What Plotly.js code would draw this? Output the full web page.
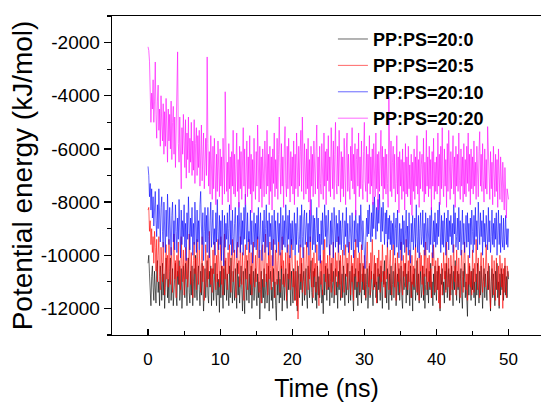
<!DOCTYPE html>
<html>
<head>
<meta charset="utf-8">
<script src="https://cdn.plot.ly/plotly-3.0.1.min.js"></script>
<style>
html,body{margin:0;padding:0;background:#fff;overflow:hidden;}
#chart{width:541px;height:402px;}
</style>
</head>
<body>
<div id="chart"></div>
<script>
// Sampling grid of the MD trajectory (ns)
const t0 = 0;
const dt = 0.1;

const seriesNames = ["PP:PS=20:0", "PP:PS=20:5", "PP:PS=20:10", "PP:PS=20:20"];

// Potential energy (kJ/mol), one value every 0.1 ns (one row = 1 ns)
const energy_20_0 = [
-10300,-10000,-10700,-11500,-11900,-10800,-10400,-11200,-11700,-10600,
-11300,-11800,-10500,-10200,-11400,-11000,-11900,-10400,-10800,-11700,
-10300,-11500,-10700,-12000,-11200,-10100,-10600,-11600,-10900,-11800,
-10600,-10100,-11700,-11200,-10500,-11900,-11300,-10700,-10300,-11500,
-11900,-10600,-11100,-10200,-11700,-11300,-10500,-12000,-11400,-10400,
-10900,-11600,-10300,-11200,-11900,-10700,-10100,-11400,-11800,-10600,
-11500,-10400,-11900,-11000,-10500,-11600,-10000,-11300,-11700,-10700,
-10400,-11300,-11900,-10600,-11500,-10300,-11000,-12100,-11300,-10500,
-11600,-10800,-10200,-11500,-11800,-10600,-11200,-10400,-11900,-10900,
-10500,-11700,-11100,-10300,-11400,-11900,-10700,-11500,-10900,-12150,
-10600,-11600,-10400,-11200,-12000,-10500,-11500,-10200,-11000,-11700,
-10700,-11300,-11900,-10400,-11600,-10100,-11200,-11800,-10600,-11400,
-11700,-10500,-11000,-12000,-10300,-11500,-10800,-11800,-11100,-10400,
-11300,-12100,-10600,-11500,-12200,-10500,-11100,-11700,-10200,-11400,
-11800,-10700,-11500,-10400,-12000,-11200,-10600,-11700,-11300,-10500,
-11500,-11900,-10700,-11600,-11000,-12400,-11300,-10600,-11800,-10900,
-11600,-10500,-12000,-11300,-10700,-11800,-11400,-10400,-12100,-11000,
-10600,-11700,-11200,-12000,-10500,-11600,-11000,-11900,-12450,-10900,
-11500,-10600,-11800,-10900,-11600,-10400,-12100,-11300,-10700,-11700,
-11200,-10500,-11600,-12000,-10700,-11300,-10300,-11500,-11900,-10600,
-11400,-11800,-10500,-11000,-11700,-10600,-11500,-12100,-10400,-11200,
-11600,-10700,-11300,-10300,-11900,-11000,-10600,-11700,-11300,-10500,
-11500,-12000,-10400,-11100,-11600,-10700,-10200,-11400,-11800,-10600,
-11200,-10500,-11700,-11000,-12000,-10400,-11500,-10800,-11600,-11200,
-10600,-11800,-11300,-12200,-10700,-11500,-10400,-11100,-11700,-10500,
-11300,-10700,-11900,-11000,-10300,-11600,-11200,-10600,-11800,-11000,
-10500,-11500,-11000,-12000,-10600,-11300,-10200,-11700,-11100,-10700,
-11600,-10400,-11300,-11900,-10700,-11500,-11000,-10300,-11800,-11100,
-10600,-11700,-11200,-10400,-11500,-12100,-10700,-11300,-10500,-11600,
-11000,-11900,-10600,-11500,-10300,-11100,-11800,-10700,-11300,-10400,
-11500,-10700,-11700,-11100,-10500,-12000,-11000,-10400,-11600,-11300,
-10600,-11500,-11900,-10700,-11200,-10300,-11600,-11000,-11800,-10500,
-11300,-10700,-11700,-10400,-11500,-12000,-10600,-11100,-10200,-11600,
-11000,-11800,-10500,-11300,-12050,-10700,-11500,-10400,-11700,-11100,
-10600,-11600,-11000,-10300,-11900,-11300,-10700,-11500,-10500,-11700,
-11100,-10400,-11600,-12000,-10600,-11300,-11000,-10300,-11800,-10700,
-11500,-10600,-11200,-11900,-10400,-11600,-11000,-12100,-10700,-11300,
-10500,-11700,-11100,-10200,-11500,-10700,-11800,-11000,-10600,-11600,
-11300,-10400,-11700,-10700,-12000,-11100,-10500,-11500,-11000,-11800,
-10600,-11300,-10300,-11600,-11000,-11900,-10700,-11500,-10400,-11200,
-11700,-10600,-11300,-10400,-11600,-12100,-10700,-11100,-10500,-11500,
-11000,-11800,-10600,-11300,-10300,-11600,-11100,-10500,-11700,-10700,
-11500,-10400,-11100,-11900,-10600,-11300,-10200,-11000,-11700,-10600,
-11300,-10700,-11800,-11000,-10500,-11500,-12000,-10600,-11200,-10300,
-11600,-11000,-12000,-12300,-10700,-11500,-10400,-11100,-11700,-10600,
-11300,-10500,-11600,-11000,-11900,-10700,-11500,-10300,-11100,-11800,
-10600,-11500,-10400,-11300,-12000,-11000,-10500,-11600,-10700,-11200,
-11700,-10600,-11300,-10400,-11500,-12100,-11000,-10500,-11600,-10700,
-11200,-11900,-10600,-11300,-10300,-11600,-11000,-12000,-10700,-11500,
-10500,-11300,-10700,-11700,-11000,-10400,-11500,-10800,-11600,-10600,
-10900];

const energy_20_5 = [
-8300,-8200,-9100,-8700,-9600,-9000,-9900,-9300,-10300,-9100,
-9700,-10600,-9400,-11000,-10000,-9300,-10800,-11300,-9700,-10400,
-11000,-9500,-10300,-11500,-10600,-9600,-10900,-10000,-11200,-9400,
-10500,-11100,-9700,-10700,-11400,-9900,-9200,-10900,-10200,-11600,
-10000,-10800,-9500,-11100,-10400,-11300,-9300,-10300,-11000,-9800,
-11500,-10400,-9700,-10900,-10100,-11200,-10700,-9200,-10500,-11100,
-9900,-10800,-11600,-10200,-9500,-10700,-10100,-11300,-9400,-10600,
-11100,-9800,-10700,-11400,-10200,-9300,-11000,-10400,-11700,-9900,
-9600,-10600,-11200,-10000,-10900,-9100,-10300,-11100,-10500,-11400,
-9800,-10700,-9500,-10400,-11300,-10000,-11000,-9400,-10600,-11200,
-10200,-9300,-11100,-10400,-11500,-9800,-9200,-10900,-10100,-11000,
-11300,-9900,-10700,-9600,-10500,-11400,-10200,-9400,-11000,-10300,
-9800,-10900,-11600,-10000,-9500,-10700,-10200,-11200,-9300,-10600,
-11100,-9900,-10700,-11700,-10200,-9600,-10900,-10000,-11300,-10400,
-9400,-10600,-11100,-9900,-11500,-10300,-9500,-10800,-11200,-10000,
-11000,-10200,-9300,-10800,-11400,-9800,-10500,-11800,-10100,-9600,
-10700,-11200,-10100,-9200,-11000,-10300,-11500,-9900,-10900,-9500,
-10500,-11300,-10000,-11000,-9400,-10300,-11600,-9800,-10700,-11100,
-10200,-9500,-10800,-11400,-9900,-10500,-9300,-11100,-10200,-11200,
-10700,-9900,-11700,-10300,-9600,-10900,-10000,-11300,-10500,-9400,
-10300,-11200,-10600,-11700,-10000,-11000,-11900,-10200,-12400,-11100,
-10400,-9600,-11000,-10100,-11400,-10600,-9700,-11000,-11500,-10300,
-9500,-10700,-11300,-10000,-10900,-9300,-10500,-11200,-10100,-11600,
-9900,-10800,-10300,-11400,-9600,-10500,-11200,-11900,-10600,-10000,
-11100,-10200,-11500,-9800,-10700,-9400,-11000,-10300,-11300,-10000,
-10700,-11200,-9600,-10500,-11400,-10100,-11000,-9500,-10300,-11500,
-9900,-10800,-10200,-11200,-9300,-10500,-11100,-10000,-11600,-10600,
-9800,-10900,-11400,-10300,-9600,-10800,-10100,-11300,-10500,-9500,
-10600,-11500,-10000,-11000,-10300,-11700,-9800,-10800,-9400,-10500,
-11200,-10100,-11000,-9900,-11400,-10600,-9600,-11000,-10300,-11300,
-10000,-10800,-11600,-10200,-9500,-10600,-11200,-10300,-11500,-9900,
-10900,-9400,-10500,-11300,-10000,-11100,-10300,-11800,-10100,-10800,
-9800,-10600,-11400,-10200,-11000,-9600,-10500,-11200,-10600,-11600,
-10000,-10900,-9500,-10800,-11300,-10300,-9800,-11100,-11500,-10400,
-9600,-10600,-11200,-10100,-11700,-10700,-9900,-11000,-10300,-11400,
-10500,-9500,-11100,-11500,-10000,-10800,-10300,-11200,-9400,-10600,
-11300,-10200,-11000,-9800,-10600,-11600,-10000,-11100,-10400,-11200,
-10300,-9600,-10800,-11400,-10100,-11000,-11700,-9900,-10600,-10000,
-11100,-10400,-11500,-9800,-10800,-9500,-10600,-11300,-10100,-11000,
-10000,-11200,-10500,-11600,-9900,-10400,-9600,-10900,-11400,-10200,
-10800,-11300,-10100,-11800,-10400,-12000,-11000,-10300,-11500,-10600,
-9900,-10900,-10300,-11400,-9500,-10600,-11200,-10100,-11000,-11700,
-10000,-10800,-11300,-10300,-9600,-11000,-10400,-11500,-9800,-10600,
-11200,-10100,-11000,-11600,-10500,-9800,-10800,-11400,-10200,-9500,
-10400,-11300,-10700,-11700,-10000,-11100,-10300,-11200,-10600,-11500,
-9800,-10700,-11400,-10300,-11000,-9400,-10500,-11300,-10100,-11000,
-11600,-10400,-9900,-10900,-11400,-10100,-10800,-11200,-10400,-9600,
-10600,-11300,-10300,-11000,-11800,-12000,-10700,-10000,-10900,-11500,
-10200,-11000,-11700,-10100,-10800,-11300,-10400,-11900,-10000,-10900,
-11200,-10300,-12000,-10500,-11400,-10100,-10900,-11600,-10400,-10700,
-10800];

const energy_20_10 = [
-6660,-7000,-7800,-7300,-8300,-7500,-8600,-7800,-8900,-8100,
-7600,-8700,-9300,-8100,-9000,-7500,-8800,-9500,-8200,-7800,
-9100,-9700,-8000,-8800,-9900,-8300,-9300,-7700,-9000,-9600,
-8200,-9300,-10000,-8500,-8000,-9500,-8700,-9800,-8100,-9100,
-9900,-8600,-9400,-7900,-9200,-10100,-8300,-9600,-8700,-9300,
-8100,-9700,-8800,-10200,-8400,-9400,-7800,-8900,-9800,-8600,
-9300,-8200,-10000,-8800,-9600,-8000,-9200,-9900,-8300,-9500,
-8700,-9800,-8100,-7600,-8900,-9600,-8400,-10200,-9100,-8200,
-9500,-8500,-9900,-8200,-9300,-10100,-8700,-8000,-9700,-8800,
-8300,-9600,-9000,-10000,-8400,-9500,-7900,-9100,-9800,-8500,
-9600,-8700,-10200,-8300,-9300,-10400,-8500,-9700,-8800,-9400,
-8400,-9800,-9000,-8100,-9600,-8700,-10000,-8300,-9300,-9900,
-8800,-8200,-9500,-10100,-8500,-9700,-8000,-9200,-9900,-8400,
-9600,-8700,-10000,-8200,-9400,-7700,-9000,-9800,-8400,-9500,
-9100,-9900,-8300,-9600,-8700,-10300,-9200,-8400,-9700,-8800,
-9800,-8500,-9400,-8200,-10100,-9000,-8400,-9600,-10200,-8700,
-9500,-8300,-9900,-9000,-8100,-9700,-8700,-10000,-8400,-9300,
-8800,-9800,-8500,-10400,-9200,-8300,-9600,-8700,-9900,-9000,
-8400,-9500,-8800,-10000,-8200,-9300,-9800,-8500,-9600,-8700,
-9700,-8100,-9100,-9900,-8500,-9400,-8300,-10100,-8800,-9600,
-8700,-9800,-9200,-8400,-10000,-8800,-9600,-8200,-9100,-9900,
-9400,-8500,-9700,-8100,-9300,-10100,-8600,-8300,-9600,-9000,
-8400,-9700,-8800,-10000,-8300,-9500,-7900,-8900,-9800,-8500,
-9600,-8600,-9900,-9000,-8200,-9500,-8600,-10200,-9200,-10300,
-8700,-9600,-8400,-9800,-8600,-8100,-9300,-8500,-9700,-9000,
-8300,-9500,-10000,-8700,-9600,-8400,-9100,-10100,-8200,-9300,
-9700,-8500,-9500,-8800,-9900,-8300,-9600,-8700,-9800,-9000,
-8400,-9600,-10000,-8700,-9300,-8200,-9700,-8800,-9900,-9400,
-8500,-9200,-9800,-8400,-9600,-10100,-8700,-9500,-8300,-9300,
-9700,-8800,-9900,-8500,-9500,-8100,-9200,-9800,-8700,-9600,
-10000,-10500,-9400,-8600,-9300,-8300,-9200,-8100,-8900,-9500,
-8400,-9300,-8000,-9000,-7800,-8600,-9400,-8200,-9100,-7900,
-8800,-7700,-8600,-9500,-8200,-9100,-8000,-8900,-9600,-8400,
-9200,-8300,-9700,-8600,-9400,-8500,-9600,-8700,-9800,-8800,
-9600,-8400,-10000,-9000,-8600,-9700,-8300,-9500,-10100,-8800,
-9800,-9000,-10200,-8500,-9600,-8700,-9900,-9200,-8300,-9700,
-8900,-10000,-8400,-9600,-10300,-8800,-9500,-8500,-9800,-9200,
-8600,-9700,-8100,-9300,-9900,-8500,-10100,-9000,-8400,-9600,
-9300,-8300,-9700,-8800,-10000,-8400,-9500,-9800,-8600,-9100,
-9900,-8500,-9600,-8200,-9400,-10100,-8700,-9500,-8400,-9700,
-8800,-9600,-8300,-9300,-8000,-9100,-9900,-8500,-9600,-8700,
-9700,-8400,-9300,-10000,-8600,-9500,-8300,-9800,-8700,-9300,
-8500,-9600,-8800,-9900,-8100,-9200,-8400,-9700,-9300,-8600,
-9800,-8200,-9500,-8700,-10000,-9100,-8300,-9600,-8800,-9900,
-9300,-8500,-9700,-8400,-9500,-8800,-10100,-8600,-9600,-8300,
-9100,-9900,-8500,-9600,-8200,-9300,-8700,-9800,-8000,-8900,
-9600,-8400,-9300,-8700,-10000,-8300,-9500,-8800,-9700,-8500,
-9200,-9800,-8200,-9500,-8700,-9900,-9300,-8300,-9600,-8800,
-9700,-8600,-9400,-8400,-10000,-9100,-8300,-9600,-8800,-9900,
-8500,-9400,-9700,-8600,-9800,-9200,-8500,-9600,-9000,-9700,
-9000];

const energy_20_20 = [
-2160,-2300,-2700,-4600,-5000,-3900,-4500,-3400,-5000,-4200,
-2730,-4700,-5600,-4200,-3600,-5300,-4500,-5900,-4000,-5100,
-5700,-4300,-6200,-4600,-5900,-4100,-5300,-6500,-4500,-5700,
-4700,-6000,-4200,-6400,-5000,-4400,-6200,-4800,-6700,-5100,
-4600,-2350,-5800,-6500,-4800,-6900,-7500,-5200,-6200,-4700,
-5500,-6700,-4900,-7100,-5400,-6400,-4800,-6900,-5600,-6500,
-5000,-7000,-5700,-6800,-4900,-7300,-5800,-5200,-7000,-5500,
-6700,-5300,-7400,-5900,-5100,-7200,-6000,-5400,-7500,-6100,
-5600,-7000,-2540,-5800,-7400,-6100,-7700,-5500,-7200,-7900,
-5900,-7500,-5600,-7100,-8100,-6200,-7600,-5700,-7300,-7800,
-6000,-7400,-6300,-8100,-5600,-7200,-7700,-3850,-6200,-7600,
-6500,-8000,-5800,-7500,-6300,-8300,-6100,-7400,-5300,-7700,
-6200,-7800,-6600,-5400,-7600,-6400,-8200,-5900,-7500,-6100,
-7900,-6500,-5200,-7400,-6000,-8100,-6600,-5700,-7800,-6300,
-7500,-5500,-7700,-6200,-8400,-6400,-7600,-5600,-7200,-7900,
-6100,-7400,-5100,-7300,-8000,-5900,-7500,-6300,-8200,-6000,
-7300,-7800,-5700,-6400,-7700,-5300,-7400,-6200,-8100,-5900,
-7600,-6300,-8300,-6000,-7300,-5400,-7800,-6400,-7500,-5600,
-7900,-6200,-4800,-6500,-7700,-5800,-7400,-6300,-8200,-6000,
-5160,-7300,-7800,-5900,-7500,-5600,-7200,-8000,-6100,-7400,
-6300,-7700,-5700,-8100,-6200,-7500,-5400,-7300,-7800,-5900,
-7400,-6100,-5300,-7600,-4800,-6300,-7900,-5800,-7300,-7700,
-6000,-7500,-5600,-8000,-6400,-8500,-5900,-7400,-6200,-7800,
-5700,-7200,-7700,-6100,-5100,-7500,-6300,-8200,-5900,-7300,
-7700,-5800,-7100,-7900,-5400,-7400,-6100,-8100,-6000,-7200,
-5500,-7600,-6300,-7800,-5200,-6400,-7500,-5700,-7900,-6200,
-5000,-7300,-7700,-5900,-7400,-5300,-7200,-8000,-6100,-7500,
-6300,-7800,-5600,-7300,-8100,-6000,-5400,-7600,-6200,-7400,
-7900,-5900,-7200,-5200,-7500,-6200,-7700,-5800,-8500,-6400,
-6000,-7400,-5400,-7800,-6300,-7500,-5700,-7300,-7900,-6100,
-5000,-7200,-7600,-5900,-8000,-6200,-7300,-5500,-7700,-6300,
-7400,-6000,-8100,-5800,-7200,-7800,-5400,-7500,-6200,-8300,
-6100,-7600,-6400,-5300,-7400,-5900,-7900,-6300,-7500,-6000,
-7700,-6200,-7300,-8200,-4040,-6400,-7600,-5700,-7800,-6500,
-5900,-7500,-6200,-8000,-7300,-5500,-7700,-6300,-8400,-6100,
-7400,-6400,-7900,-6000,-7600,-6500,-8300,-5800,-7700,-6300,
-7800,-5900,-7500,-6600,-8100,-6200,-8500,-6500,-7600,-6000,
-7900,-6300,-7400,-5500,-7700,-6400,-8200,-6100,-7500,-6600,
-6200,-7600,-5600,-8000,-6500,-7700,-5300,-7400,-6300,-7800,
-5900,-7500,-6400,-8300,-6100,-7400,-5600,-7900,-6500,-7600,
-6300,-7700,-5400,-7400,-6200,-8100,-5900,-7500,-5200,-7300,
-7800,-6000,-7400,-6400,-8200,-5800,-7600,-5300,-7200,-7900,
-6100,-7500,-6600,-5500,-7700,-6300,-8200,-5900,-7400,-6200,
-7600,-5400,-7200,-7900,-6000,-7400,-6300,-8000,-5800,-7700,
-6400,-7800,-5900,-7300,-5400,-7600,-6200,-8100,-6000,-7500,
-6300,-7700,-5700,-7400,-6500,-7900,-5900,-7300,-7800,-6100,
-5350,-7400,-6200,-7600,-5800,-7200,-8000,-6000,-7500,-6400,
-7700,-5160,-6300,-7400,-7900,-6100,-7500,-6500,-8100,-5900,
-7300,-7800,-6200,-7600,-6400,-8200,-6000,-7400,-7900,-6300,
-7600,-8000,-6500,-7700,-8300,-6700,-7900,-8600,-7500,-7800,
-7900];

const seriesValues = [energy_20_0, energy_20_5, energy_20_10, energy_20_20];
const seriesColors = ["#000000", "#ff0000", "#0000ff", "#ff00ff"];

const xTickVals = [0, 10, 20, 30, 40, 50];
const yTickVals = [-12000, -10000, -8000, -6000, -4000, -2000];

const FONT = "Arial, 'Liberation Sans', Helvetica, sans-serif";

const traces = seriesValues.map((vals, k) => ({
  type: "scatter",
  mode: "lines",
  name: seriesNames[k],
  x: vals.map((_, i) => +(t0 + i * dt).toFixed(2)),
  y: vals,
  line: {color: seriesColors[k], width: 0.6}
}));

const layout = {
  width: 541,
  height: 402,
  margin: {l: 112, r: 0, t: 16, b: 67, pad: 0},
  paper_bgcolor: "#ffffff",
  plot_bgcolor: "#ffffff",
  font: {family: FONT, color: "#000"},
  showlegend: true,
  legend: {
    x: 0.515, xanchor: "left",
    y: 0.985, yanchor: "top",
    bgcolor: "rgba(0,0,0,0)",
    borderwidth: 0,
    font: {family: FONT, size: 18, color: "#000", weight: "bold"},
    tracegroupgap: 0
  },
  xaxis: {
    range: [-5, 54.5],
    tickvals: xTickVals,
    ticktext: xTickVals.map(String),
    ticks: "inside",
    ticklen: 6,
    tickwidth: 1.2,
    tickcolor: "#000",
    ticklabelstandoff: 8,
    minor: {dtick: 5, tick0: 5, ticks: "inside", ticklen: 4, tickwidth: 1.2, tickcolor: "#000", showgrid: false},
    showgrid: false,
    zeroline: false,
    showline: true,
    linecolor: "#000",
    linewidth: 1.3,
    mirror: true,
    tickfont: {family: FONT, size: 17, color: "#000"},
    title: {text: "Time (ns)", font: {family: FONT, size: 25, color: "#000"}, standoff: 12}
  },
  yaxis: {
    range: [-13000, -1000],
    tickvals: yTickVals,
    ticktext: yTickVals.map(String),
    ticks: "outside",
    ticklen: 7,
    tickwidth: 1.2,
    tickcolor: "#000",
    minor: {dtick: 1000, tick0: -13000, ticks: "outside", ticklen: 4, tickwidth: 1.2, tickcolor: "#000", showgrid: false},
    showgrid: false,
    zeroline: false,
    showline: true,
    linecolor: "#000",
    linewidth: 1.3,
    tickfont: {family: FONT, size: 19, color: "#000"},
    title: {text: "Potential energy (kJ/mol)", font: {family: FONT, size: 28, color: "#000"}, standoff: 0}
  }
};

Plotly.newPlot("chart", traces, layout, {displayModeBar: false, staticPlot: true});
</script>
</body>
</html>
